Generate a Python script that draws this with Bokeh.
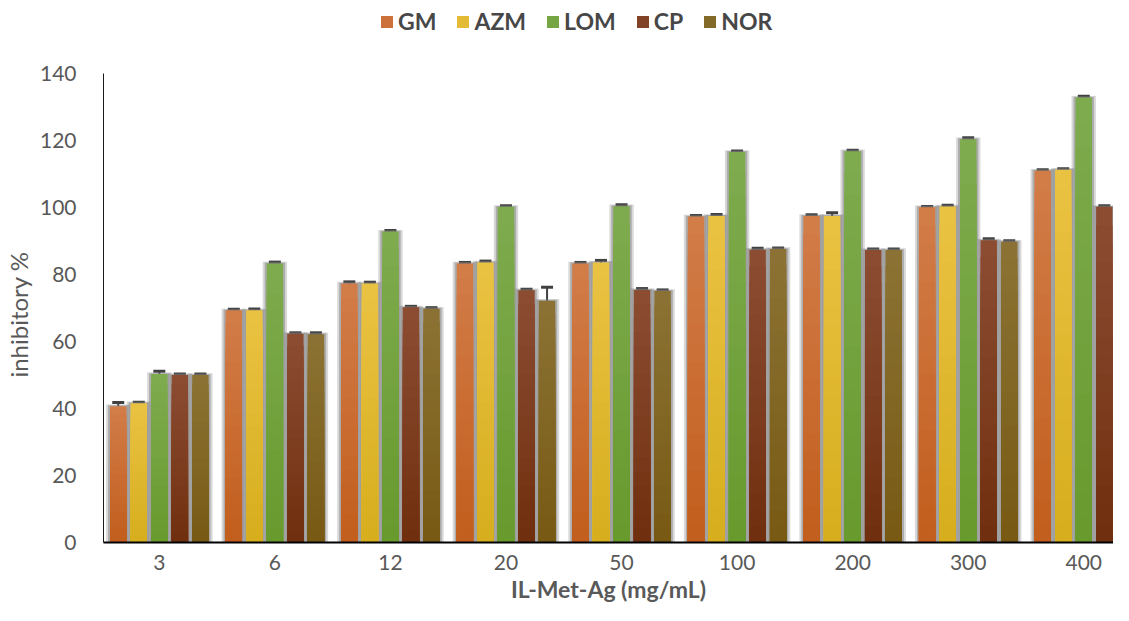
from bokeh.plotting import figure
from bokeh.models import (Range1d, FixedTicker, Legend, LegendItem, ColumnDataSource,
                          Whisker, TeeHead)
from bokeh.embed import file_html
from bokeh.resources import INLINE

# ---------------- data ----------------
concentrations = ["3", "6", "12", "20", "50", "100", "200", "300", "400"]
series_names = ["GM", "AZM", "LOM", "CP", "NOR"]

GM = [40.7, 69.3, 77.3, 83.3, 83.3, 97.3, 97.5, 100.1, 111.0]
AZM = [41.6, 69.3, 77.3, 83.6, 83.6, 97.5, 97.5, 100.3, 111.3]
LOM = [50.3, 83.3, 92.8, 100.2, 100.4, 116.6, 116.8, 120.4, 132.8]
CP = [50.0, 62.3, 70.2, 75.3, 75.4, 87.4, 87.3, 90.2, 100.2]
NOR = [50.0, 62.2, 69.8, 72.2, 75.1, 87.6, 87.3, 89.8, 100.2]

GM_err = [1.1, 0.3, 0.5, 0.3, 0.3, 0.3, 0.3, 0.2, 0.3]
AZM_err = [0.3, 0.4, 0.4, 0.4, 0.6, 0.4, 0.9, 0.4, 0.3]
LOM_err = [0.8, 0.4, 0.3, 0.3, 0.4, 0.3, 0.3, 0.4, 0.4]
CP_err = [0.3, 0.3, 0.3, 0.3, 0.4, 0.4, 0.3, 0.5, 0.3]
NOR_err = [0.3, 0.4, 0.3, 4.0, 0.3, 0.3, 0.3, 0.3, 0.3]

y_ticks = [0, 20, 40, 60, 80, 100, 120, 140]
Y_MAX = 140

# ---------------- style ----------------
top_colors = ["#D27C48", "#EAC242", "#7EAB4E", "#8C4C32", "#8B7234"]
bottom_colors = ["#C25E1E", "#D6AE1E", "#689A2E", "#70300F", "#785A14"]
TXT = "#595959"
FONT = "Lato"

values = [GM, AZM, LOM, CP, NOR]
errors = [GM_err, AZM_err, LOM_err, CP_err, NOR_err]

STEP = 0.1777
BW = 0.142
PX = 1.0 / 115.9  # data units per pixel horizontally

W, H = 1113, 605
LEFT, BOTTOM = 100, 63
FRAME_H = H - BOTTOM            # frame reaches the top of the figure
AXIS_TOP_PX = 73                # where 140 sits
y_end = Y_MAX * FRAME_H / (FRAME_H - AXIS_TOP_PX)
x_end = -0.483 + (W - LEFT) * PX

p = figure(width=W, height=H, output_backend="svg", toolbar_location=None,
           x_range=Range1d(-0.483, x_end), y_range=Range1d(0, y_end),
           min_border_left=LEFT, min_border_right=0, min_border_top=0,
           min_border_bottom=BOTTOM)
p.outline_line_color = None
p.xgrid.grid_line_color = None
p.ygrid.grid_line_color = None
p.background_fill_color = "white"
p.border_fill_color = "white"


def hex2rgb(h):
    h = h.lstrip("#")
    return tuple(int(h[i:i + 2], 16) for i in (0, 2, 4))


def mix(c1, c2, t):
    a, b = hex2rgb(c1), hex2rgb(c2)
    return "#%02x%02x%02x" % tuple(int(round(a[i] + (b[i] - a[i]) * t)) for i in range(3))


N = 18
legend_renderers = []
xs_all = []
for si, vals in enumerate(values):
    xs = [i + (si - 2) * STEP for i in range(len(concentrations))]
    xs_all.append(xs)
    # soft shadow
    p.vbar(x=xs, width=BW + 8 * PX, top=[v + 0.5 for v in vals], bottom=0,
           fill_color="#808080", fill_alpha=0.3, line_color=None)
    p.vbar(x=xs, width=BW + 4 * PX, top=[v + 0.25 for v in vals], bottom=0,
           fill_color="#808080", fill_alpha=0.5, line_color=None)

for si, vals in enumerate(values):
    xs = xs_all[si]
    mid = None
    for j in range(N):
        frac = (N - j) / N
        col = mix(top_colors[si], bottom_colors[si], j / (N - 1))
        r = p.vbar(x=xs, width=BW, top=[v * frac for v in vals], bottom=0,
                   fill_color=col, line_color=None)
        if j == N // 3:
            mid = r
    legend_renderers.append(mid)

# error bars
for si, vals in enumerate(values):
    src = ColumnDataSource(dict(
        x=xs_all[si],
        upper=[v + e for v, e in zip(vals, errors[si])],
        lower=[v - e for v, e in zip(vals, errors[si])]))
    w = Whisker(source=src, base="x", upper="upper", lower="lower",
                dimension="height", line_color="#404040", line_width=2,
                upper_head=TeeHead(size=12, line_color="#404040", line_width=3),
                lower_head=TeeHead(size=12, line_color="#404040", line_width=3))
    p.add_layout(w)

# axes
xa = p.xaxis[0]
xa.ticker = FixedTicker(ticks=list(range(len(concentrations))))
xa.major_label_overrides = {i: c for i, c in enumerate(concentrations)}
xa.major_tick_line_color = None
xa.minor_tick_line_color = None
xa.axis_line_color = "#000000"
xa.axis_line_width = 2
xa.major_label_text_font = FONT
xa.major_label_text_font_size = "21px"
xa.major_label_text_color = TXT
xa.major_label_standoff = 6
xa.axis_label = "IL-Met-Ag (mg/mL)"
xa.axis_label_text_font = FONT
xa.axis_label_text_font_style = "bold"
xa.axis_label_text_font_size = "23px"
xa.axis_label_text_color = TXT
xa.axis_label_standoff = 2

ya = p.yaxis[0]
ya.ticker = FixedTicker(ticks=y_ticks)
ya.bounds = (0, Y_MAX)
ya.major_tick_line_color = None
ya.minor_tick_line_color = None
ya.axis_line_color = "#1a1a1a"
ya.axis_line_width = 1
ya.major_label_text_font = FONT
ya.major_label_text_font_size = "21px"
ya.major_label_text_color = TXT
ya.major_label_standoff = 21
# trailing no-break spaces keep the title centred on the 0-140 part of the axis
ya.axis_label = "inhibitory %" + "\u00a0" * 14
ya.axis_label_text_font = FONT
ya.axis_label_text_font_style = "normal"
ya.axis_label_text_font_size = "24px"
ya.axis_label_text_color = TXT
ya.axis_label_standoff = 4

legend = Legend(items=[LegendItem(label=n, renderers=[r]) for n, r in zip(series_names, legend_renderers)],
                orientation="horizontal", location=(276, FRAME_H - 35),
                glyph_width=15, glyph_height=15, label_standoff=4, spacing=19,
                padding=0, margin=0, border_line_color=None, background_fill_alpha=0,
                label_text_font=FONT, label_text_font_style="bold",
                label_text_font_size="23px", label_text_color="#474747", label_height=22)
p.add_layout(legend)

open("out.html", "w").write(file_html(p, INLINE))
